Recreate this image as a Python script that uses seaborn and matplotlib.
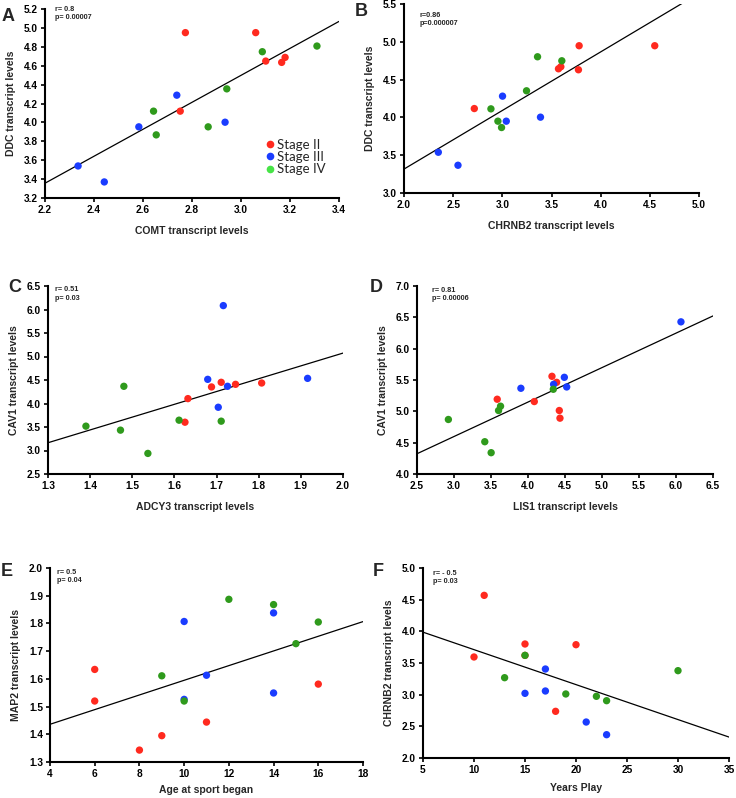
import matplotlib
matplotlib.use("Agg")
import matplotlib.pyplot as plt
from matplotlib.lines import Line2D
import seaborn as sns
import pandas as pd
import numpy as np

# ---------------- data ----------------
stage_names = ["Stage II", "Stage III", "Stage IV"]

# Panel A: COMT vs DDC
a_stage = ["Stage II"] * 6 + ["Stage III"] * 5 + ["Stage IV"] * 6
a_x = [2.773, 3.060, 3.101, 3.166, 3.180, 2.752,
       2.738, 2.935, 2.583, 2.335, 2.442,
       3.087, 3.310, 2.942, 2.643, 2.654, 2.866]
a_y = [4.950, 4.950, 4.649, 4.635, 4.688, 4.119,
       4.288, 4.002, 3.953, 3.539, 3.370,
       4.748, 4.808, 4.355, 4.119, 3.868, 3.953]

# Panel B: CHRNB2 vs DDC
b_stage = a_stage
b_x = [3.781, 4.550, 3.571, 3.595, 3.774, 2.715,
       3.002, 3.040, 3.388, 2.349, 2.549,
       3.358, 3.605, 3.246, 2.884, 2.955, 2.992]
b_y = [4.948, 4.948, 4.643, 4.670, 4.630, 4.117,
       4.281, 3.950, 4.003, 3.539, 3.367,
       4.802, 4.749, 4.352, 4.113, 3.950, 3.866]

# Panel C: ADCY3 vs CAV1
c_stage = a_stage
c_x = [1.688, 1.711, 1.745, 1.807, 1.632, 1.625,
       1.716, 1.679, 1.726, 1.704, 1.916,
       1.480, 1.390, 1.472, 1.611, 1.711, 1.537]
c_y = [4.352, 4.451, 4.408, 4.436, 4.104, 3.602,
       6.083, 4.514, 4.366, 3.920, 4.535,
       4.366, 3.518, 3.433, 3.645, 3.624, 2.938]

# Panel D: LIS1 vs CAV1
d_stage = a_stage
d_x = [4.324, 4.387, 4.085, 3.584, 4.423, 4.432,
       6.067, 4.491, 4.346, 4.523, 3.904,
       4.342, 3.629, 3.602, 2.924, 3.416, 3.502]
d_y = [5.559, 5.463, 5.156, 5.193, 5.013, 4.891,
       6.428, 5.543, 5.431, 5.389, 5.368,
       5.352, 5.082, 5.013, 4.870, 4.515, 4.340]

# Panel E: Age at sport began vs MAP2
e_stage = a_stage
e_x = [6, 6, 16, 11, 9, 8,
       10, 14, 11, 10, 14,
       12, 14, 16, 15, 9, 10]
e_y = [1.634, 1.520, 1.581, 1.444, 1.395, 1.343,
       1.807, 1.838, 1.613, 1.526, 1.549,
       1.887, 1.868, 1.805, 1.727, 1.611, 1.520]

# Panel F: Years play vs CHRNB2
f_stage = a_stage
f_x = [11, 15, 20, 10, 18, 15,
       17, 15, 17, 21, 23,
       15, 13, 19, 22, 23, 30]
f_y = [4.568, 3.800, 3.789, 3.595, 2.737, 3.620,
       3.405, 3.021, 3.058, 2.568, 2.368,
       3.621, 3.268, 3.011, 2.974, 2.905, 3.379]

stats_text = {
    "A": "r= 0.8\np= 0.00007",
    "B": "r=0.86\np=0.000007",
    "C": "r= 0.51\np= 0.03",
    "D": "r= 0.81\np= 0.00006",
    "E": "r= 0.5\np= 0.04",
    "F": "r= - 0.5\np= 0.03",
}

# ---------------- style ----------------
sns.set_theme(style="ticks")
plt.rcParams["font.family"] = ["Liberation Sans", "DejaVu Sans"]
plt.rcParams["font.weight"] = "bold"
plt.rcParams["axes.labelweight"] = "bold"

pt_palette = {"Stage II": "#ff2a1f", "Stage III": "#1a3cff", "Stage IV": "#2f9a1c"}
legend_colors = {"Stage II": "#ff2a1f", "Stage III": "#1a3cff", "Stage IV": "#47e447"}

W, H = 736, 798
fig = plt.figure(figsize=(W / 100, H / 100), dpi=100)


def px_axes(x0, y0, x1, y1):
    return fig.add_axes([x0 / W, 1 - y1 / H, (x1 - x0) / W, (y1 - y0) / H])


panels = [
    # letter, box, x, y, stage, xlim, ylim, xticks, yticks, fmt, xlabel, ylabel,
    # stats pos, letter pos, xlabel pad
    ("A", (45, 9, 339, 198), a_x, a_y, a_stage, (2.2, 3.4), (3.2, 5.2),
     np.arange(2.2, 3.41, 0.2), np.arange(3.2, 5.21, 0.2), ("{:.1f}", "{:.1f}"),
     "COMT transcript levels", "DDC transcript levels", (0.035, 1.018), (2, 21), 8),
    ("B", (404, 4, 699, 193), b_x, b_y, b_stage, (2.0, 5.0), (3.0, 5.5),
     np.arange(2.0, 5.01, 0.5), np.arange(3.0, 5.51, 0.5), ("{:.1f}", "{:.1f}"),
     "CHRNB2 transcript levels", "DDC transcript levels", (0.054, 0.96), (355, 16), 8),
    ("C", (48, 286, 343, 474), c_x, c_y, c_stage, (1.3, 2.0), (2.5, 6.5),
     np.arange(1.3, 2.01, 0.1), np.arange(2.5, 6.51, 0.5), ("{:.1f}", "{:.1f}"),
     "ADCY3 transcript levels", "CAV1 transcript levels", (0.025, 1.0), (8, 292), 8),
    ("D", (417, 286, 713, 474), d_x, d_y, d_stage, (2.5, 6.5), (4.0, 7.0),
     np.arange(2.5, 6.51, 0.5), np.arange(4.0, 7.01, 0.5), ("{:.1f}", "{:.1f}"),
     "LIS1 transcript levels", "CAV1 transcript levels", (0.05, 0.995), (370, 292), 8),
    ("E", (50, 568, 363, 762), e_x, e_y, e_stage, (4, 18), (1.3, 2.0),
     np.arange(4, 18.1, 2), np.arange(1.3, 2.01, 0.1), ("{:.0f}", "{:.1f}"),
     "Age at sport began", "MAP2 transcript levels", (0.022, 0.995), (1, 576), 4.5),
    ("F", (423, 568, 729, 758), f_x, f_y, f_stage, (5, 35), (2.0, 5.0),
     np.arange(5, 35.1, 5), np.arange(2.0, 5.01, 0.5), ("{:.0f}", "{:.1f}"),
     "Years Play", "CHRNB2 transcript levels", (0.033, 0.99), (373, 576), 6),
]

for (letter, box, xs, ys, st, xlim, ylim, xt, yt, fmts, xlab, ylab, spos, lpos, xpad) in panels:
    ax = px_axes(*box)
    df = pd.DataFrame({"x": xs, "y": ys, "stage": st})
    ax.set_xlim(*xlim)
    ax.set_ylim(*ylim)
    sns.regplot(data=df, x="x", y="y", ax=ax, scatter=False, ci=None,
                truncate=False, color="black", line_kws={"lw": 0.9})
    sns.scatterplot(data=df, x="x", y="y", hue="stage", palette=pt_palette,
                    hue_order=stage_names, ax=ax, s=28, edgecolor="none",
                    legend=False, zorder=3)
    ax.set_xlim(*xlim)
    ax.set_ylim(*ylim)
    ax.set_xticks(xt)
    ax.set_yticks(yt)
    ax.set_xticklabels([fmts[0].format(v) for v in xt])
    ax.set_yticklabels([fmts[1].format(v) for v in yt])
    ax.tick_params(axis="both", labelsize=7.3, width=1.2, length=3, direction="out",
                   pad=2, colors="black")
    for lab in ax.get_xticklabels() + ax.get_yticklabels():
        lab.set_fontweight("bold")
    for s in ("top", "right"):
        ax.spines[s].set_visible(False)
    for s in ("left", "bottom"):
        ax.spines[s].set_linewidth(1.5)
        ax.spines[s].set_color("black")
    ax.set_xlabel(xlab, fontsize=7.5, fontweight="bold", labelpad=xpad)
    ax.set_ylabel(ylab, fontsize=7.5, fontweight="bold", labelpad=6)
    ax.text(spos[0], spos[1], stats_text[letter], transform=ax.transAxes,
            fontsize=5.2, fontweight="bold", va="top", ha="left", linespacing=1.3)
    fig.text(lpos[0] / W, 1 - lpos[1] / H, letter, fontsize=13, fontweight="bold",
             ha="left", va="baseline")

    if letter == "A":
        handles = [Line2D([], [], marker="o", ls="none", markersize=5.5,
                          markerfacecolor=legend_colors[n], markeredgecolor="none")
                   for n in stage_names]
        leg = ax.legend(handles, stage_names, loc="lower left",
                        bbox_to_anchor=(0.72, 0.085), frameon=False,
                        prop={"family": "Lato", "size": 9.5, "weight": "normal"},
                        handletextpad=0.05, labelspacing=0.02, borderpad=0,
                        handlelength=1.0)

fig.savefig("out.png", dpi=100)
